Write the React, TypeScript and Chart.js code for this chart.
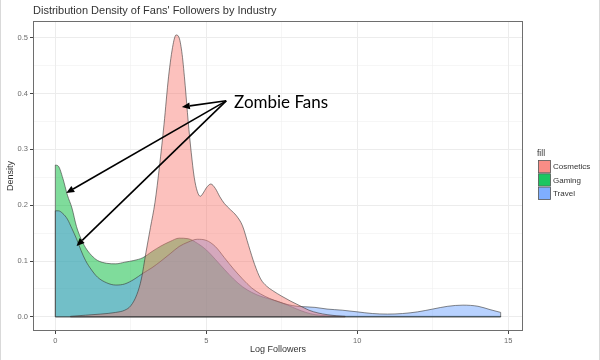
import { useEffect, useRef } from 'react';
import { Chart, registerables } from 'chart.js';
Chart.register(...registerables);

const chartTitle = "Distribution Density of Fans' Followers by Industry";
const xTitle = 'Log Followers';
const yTitle = 'Density';
const legendTitle = 'fill';
const industries = ['Cosmetics', 'Gaming', 'Travel'];
const fillColors = ['rgba(248,118,109,0.45)', 'rgba(0,186,56,0.5)', 'rgba(97,156,255,0.45)'];
const keyColors = ['#F98D86', '#1CC661', '#7FAEFF'];
const drawOrder = [0, 2, 1];
const outlineColor = 'rgba(55,55,55,0.75)';

const cosmeticsX = [0.5, 1.0, 1.5, 2.0, 2.3, 2.5, 2.7, 2.85, 3.0, 3.15, 3.3, 3.45, 3.6, 3.75, 3.9, 4.0, 4.1, 4.2, 4.3, 4.4, 4.5, 4.6, 4.7, 4.8, 4.9, 5.0, 5.15, 5.3, 5.45, 5.6, 5.8, 6.0, 6.2, 6.4, 6.6, 6.8, 7.0, 7.2, 7.5, 7.8, 8.1, 8.4, 8.7, 9.0, 9.3, 9.6];
const cosmeticsY = [0.001, 0.003, 0.005, 0.008, 0.012, 0.02, 0.04, 0.068, 0.115, 0.16, 0.205, 0.27, 0.345, 0.43, 0.488, 0.505, 0.5, 0.47, 0.415, 0.35, 0.295, 0.25, 0.225, 0.216, 0.222, 0.231, 0.238, 0.23, 0.215, 0.203, 0.192, 0.181, 0.163, 0.128, 0.094, 0.068, 0.055, 0.047, 0.037, 0.028, 0.02, 0.012, 0.007, 0.004, 0.002, 0.001];

const gamingX = [0, 0.1, 0.25, 0.4, 0.55, 0.7, 0.85, 1.0, 1.2, 1.4, 1.7, 2.0, 2.3, 2.6, 2.9, 3.2, 3.5, 3.8, 4.1, 4.4, 4.7, 5.0, 5.3, 5.6, 5.9, 6.2, 6.5, 6.8, 7.1, 7.4, 7.7, 8.0, 8.3, 8.6, 9.0, 10, 11, 12, 13, 14, 14.75];
const gamingY = [0.272, 0.27, 0.248, 0.218, 0.195, 0.162, 0.14, 0.124, 0.11, 0.101, 0.096, 0.095, 0.098, 0.101, 0.106, 0.117, 0.127, 0.135, 0.141, 0.14, 0.132, 0.12, 0.103, 0.085, 0.068, 0.054, 0.044, 0.037, 0.032, 0.027, 0.021, 0.014, 0.008, 0.004, 0.002, 0.001, 0.001, 0.001, 0.001, 0.001, 0.001];

const travelX = [0, 0.1, 0.25, 0.4, 0.55, 0.7, 0.85, 1.0, 1.2, 1.4, 1.7, 2.0, 2.3, 2.6, 2.9, 3.2, 3.5, 3.8, 4.1, 4.4, 4.7, 5.0, 5.3, 5.6, 5.9, 6.2, 6.5, 6.8, 7.1, 7.4, 7.7, 8.0, 8.3, 8.6, 9.0, 9.5, 10, 10.5, 11, 11.5, 12, 12.5, 13, 13.5, 14, 14.4, 14.75];
const travelY = [0.19, 0.19, 0.185, 0.175, 0.158, 0.14, 0.119, 0.101, 0.084, 0.071, 0.061, 0.057, 0.059, 0.067, 0.078, 0.088, 0.1, 0.113, 0.126, 0.134, 0.139, 0.137, 0.126, 0.106, 0.086, 0.068, 0.052, 0.041, 0.033, 0.027, 0.022, 0.019, 0.018, 0.017, 0.014, 0.012, 0.009, 0.006, 0.005, 0.006, 0.009, 0.014, 0.019, 0.021, 0.019, 0.013, 0.008];

const xMajorTicks = [0, 5, 10, 15];
const xMinorTicks = [2.5, 7.5, 12.5];
const yMajorTicks = [0, 0.1, 0.2, 0.3, 0.4, 0.5];
const yMinorTicks = [0.05, 0.15, 0.25, 0.35, 0.45];
const xRange = [-0.74, 15.49];
const yRange = [-0.0253, 0.53];

const annotationText = 'Zombie Fans';
const annotationTextAt = [5.92, 0.384];
const arrowFrom = [5.66, 0.387];
const arrowTips = [[4.19, 0.376], [0.36, 0.222], [0.7, 0.127]];

const seriesX = [cosmeticsX, gamingX, travelX];
const seriesY = [cosmeticsY, gamingY, travelY];

const FONT = "'Liberation Sans', Arial, sans-serif";

const decorPlugin = {
  id: 'decor',
  afterDatasetsDraw(chart: any) {
    const ctx = chart.ctx;
    const ys = chart.scales.y;
    const yZero = ys.getPixelForValue(0);
    ctx.save();
    ctx.strokeStyle = outlineColor;
    ctx.lineWidth = 0.8;
    chart.data.datasets.forEach((_d: any, i: number) => {
      const meta = chart.getDatasetMeta(i);
      const pts = meta.data;
      if (!pts.length) return;
      const a = pts[0];
      const b = pts[pts.length - 1];
      ctx.beginPath();
      ctx.moveTo(a.x, a.y);
      ctx.lineTo(a.x, yZero);
      ctx.lineTo(b.x, yZero);
      ctx.lineTo(b.x, b.y);
      ctx.stroke();
    });
    ctx.restore();
  },
  afterDraw(chart: any) {
    const ctx = chart.ctx;
    const area = chart.chartArea;
    const xs = chart.scales.x;
    const ys = chart.scales.y;
    ctx.save();
    // panel border
    ctx.strokeStyle = '#6e6e6e';
    ctx.lineWidth = 1;
    ctx.strokeRect(Math.round(area.left) + 0.5, Math.round(area.top) + 0.5, Math.round(area.right - area.left) - 1, Math.round(area.bottom - area.top) - 1);

    // title
    ctx.fillStyle = '#333';
    ctx.font = `11px ${FONT}`;
    ctx.textAlign = 'left';
    ctx.textBaseline = 'middle';
    ctx.fillText(chartTitle, area.left, 11);

    // axis titles
    ctx.font = `9px ${FONT}`;
    ctx.fillStyle = '#333';
    ctx.textAlign = 'center';
    ctx.fillText(xTitle, (area.left + area.right) / 2, 350);
    ctx.save();
    ctx.translate(11, (area.top + area.bottom) / 2);
    ctx.rotate(-Math.PI / 2);
    ctx.fillText(yTitle, 0, 0);
    ctx.restore();

    // legend
    const lx = area.right + 15;
    const keyH = 13.3;
    const midY = (area.top + area.bottom) / 2;
    const top = midY - 16;
    ctx.textAlign = 'left';
    ctx.font = `8.5px ${FONT}`;
    ctx.fillStyle = '#333';
    ctx.fillText(legendTitle, lx - 1, top - 6);
    industries.forEach((name, i) => {
      const y = top + i * keyH;
      ctx.fillStyle = '#f2f2f2';
      ctx.fillRect(lx, y, 13, keyH);
      ctx.fillStyle = keyColors[i];
      ctx.fillRect(lx + 0.5, y + 0.5, 12, keyH - 1);
      ctx.strokeStyle = '#555';
      ctx.lineWidth = 0.8;
      ctx.strokeRect(lx + 0.5, y + 0.5, 12, keyH - 1);
      ctx.fillStyle = '#333';
      ctx.font = `8px ${FONT}`;
      ctx.fillText(name, lx + 15, y + keyH / 2 + 0.5);
    });

    // annotation
    const fx = xs.getPixelForValue(arrowFrom[0]);
    const fy = ys.getPixelForValue(arrowFrom[1]);
    ctx.strokeStyle = '#000';
    ctx.fillStyle = '#000';
    ctx.lineWidth = 1.6;
    arrowTips.forEach(([tx0, ty0]) => {
      const tx = xs.getPixelForValue(tx0);
      const ty = ys.getPixelForValue(ty0);
      const ang = Math.atan2(ty - fy, tx - fx);
      const hl = 8;
      const hw = 3.5;
      const bx = tx - hl * Math.cos(ang);
      const by = ty - hl * Math.sin(ang);
      ctx.beginPath();
      ctx.moveTo(fx, fy);
      ctx.lineTo(bx, by);
      ctx.stroke();
      ctx.beginPath();
      ctx.moveTo(tx, ty);
      ctx.lineTo(bx + hw * Math.sin(ang), by - hw * Math.cos(ang));
      ctx.lineTo(bx - hw * Math.sin(ang), by + hw * Math.cos(ang));
      ctx.closePath();
      ctx.fill();
    });
    ctx.font = `17px Lato, 'Open Sans', sans-serif`;
    ctx.textAlign = 'left';
    ctx.textBaseline = 'middle';
    ctx.fillStyle = '#000';
    ctx.fillText(annotationText, xs.getPixelForValue(annotationTextAt[0]), ys.getPixelForValue(annotationTextAt[1]));

    // outer image frame
    ctx.strokeStyle = '#d9d9d9';
    ctx.lineWidth = 1;
    ctx.beginPath();
    ctx.moveTo(0.5, 0);
    ctx.lineTo(0.5, 360);
    ctx.moveTo(599.5, 0);
    ctx.lineTo(599.5, 360);
    ctx.stroke();
    ctx.restore();
  },
};

const isIn = (arr: number[], v: number) => arr.some((a) => Math.abs(a - v) < 1e-9);

export default function App() {
  const ref = useRef<HTMLCanvasElement>(null);
  useEffect(() => {
    if (!ref.current) return;
    const datasets = industries.map((name, i) => ({
      label: name,
      data: seriesX[i].map((x, j) => ({ x, y: seriesY[i][j] })),
      backgroundColor: fillColors[i],
      borderColor: outlineColor,
      borderWidth: 0.8,
      fill: 'origin',
      pointRadius: 0,
      cubicInterpolationMode: 'monotone' as const,
      order: drawOrder[i],
    }));
    const chart = new Chart(ref.current, {
      type: 'line',
      data: { datasets },
      options: {
        animation: false,
        responsive: false,
        layout: { padding: { left: 0, right: 77, top: 21, bottom: 0 } },
        plugins: { legend: { display: false }, title: { display: false }, tooltip: { enabled: false } },
        scales: {
          x: {
            type: 'linear',
            min: xRange[0],
            max: xRange[1],
            afterBuildTicks: (s: any) => {
              s.ticks = [...xMajorTicks, ...xMinorTicks].sort((a, b) => a - b).map((v) => ({ value: v }));
            },
            afterFit: (s: any) => {
              s.height = 29;
            },
            ticks: {
              autoSkip: false,
              maxRotation: 0,
              padding: 2,
              color: '#6b6b6b',
              font: { family: FONT, size: 7.5 },
              callback: (v: any) => (isIn(xMajorTicks, Number(v)) ? String(v) : ''),
            },
            grid: {
              color: '#ececec',
              lineWidth: (c: any) => (c.tick && isIn(xMinorTicks, c.tick.value) ? 0.5 : 1),
              tickLength: 3,
              tickColor: (c: any) => (c.tick && isIn(xMinorTicks, c.tick.value) ? 'rgba(0,0,0,0)' : '#444'),
              tickWidth: 1,
            },
            border: { display: false },
          },
          y: {
            type: 'linear',
            min: yRange[0],
            max: yRange[1],
            afterBuildTicks: (s: any) => {
              s.ticks = [...yMajorTicks, ...yMinorTicks].sort((a, b) => a - b).map((v) => ({ value: v }));
            },
            afterFit: (s: any) => {
              s.width = 33;
            },
            ticks: {
              autoSkip: false,
              padding: 2,
              color: '#6b6b6b',
              font: { family: FONT, size: 7.5 },
              callback: (v: any) => (isIn(yMajorTicks, Number(v)) ? Number(v).toFixed(1) : ''),
            },
            grid: {
              color: '#ececec',
              lineWidth: (c: any) => (c.tick && isIn(yMinorTicks, c.tick.value) ? 0.5 : 1),
              tickLength: 3,
              tickColor: (c: any) => (c.tick && isIn(yMinorTicks, c.tick.value) ? 'rgba(0,0,0,0)' : '#444'),
              tickWidth: 1,
            },
            border: { display: false },
          },
        },
      },
      plugins: [decorPlugin],
    } as any);
    return () => chart.destroy();
  }, []);
  return (
    <div style={{ position: 'fixed', left: 0, top: 0, width: 600, height: 360, background: '#fff' }}>
      <canvas ref={ref} width={600} height={360} style={{ width: 600, height: 360, display: 'block' }} />
    </div>
  );
}
